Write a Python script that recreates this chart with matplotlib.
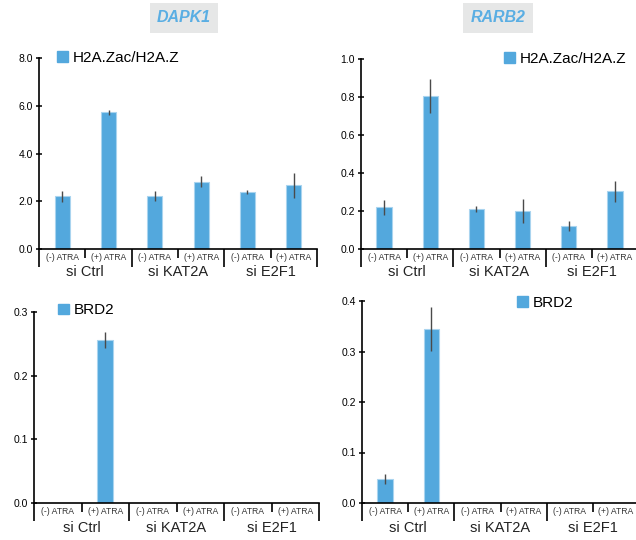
import numpy as np
import matplotlib

matplotlib.use("Agg")
import matplotlib.pyplot as plt
from matplotlib.patches import Patch, Rectangle

plt.rcParams["font.family"] = ["Liberation Sans", "DejaVu Sans"]

conditions = ["(-) ATRA", "(+) ATRA"] * 3
groups = ["si Ctrl", "si KAT2A", "si E2F1"]

dapk1_h2a = [2.20, 5.73, 2.23, 2.82, 2.39, 2.67]
dapk1_h2a_err = [0.25, 0.10, 0.20, 0.24, 0.10, 0.52]
rarb2_h2a = [0.22, 0.805, 0.21, 0.20, 0.12, 0.304]
rarb2_h2a_err = [0.04, 0.09, 0.015, 0.065, 0.027, 0.055]
dapk1_brd2 = [np.nan, 0.256, np.nan, np.nan, np.nan, np.nan]
dapk1_brd2_err = [np.nan, 0.013, np.nan, np.nan, np.nan, np.nan]
rarb2_brd2 = [0.048, 0.345, np.nan, np.nan, np.nan, np.nan]
rarb2_brd2_err = [0.010, 0.044, np.nan, np.nan, np.nan, np.nan]

BAR = "#53a8dd"
EDGE = "#a9d4ef"
TITLE = "#5aaee3"
W, H = 636, 540


def px_axes(fig, left, right, top, bottom):
    return fig.add_axes([left / W, (H - bottom) / H, (right - left) / W, (bottom - top) / H])


def panel(ax, values, errors, yticks, label, leg_xy, sub_off, grp_off):
    x = np.arange(len(values)) + 0.5
    vals = np.array(values, dtype=float)
    errs = np.array(errors, dtype=float)
    ok = np.isfinite(vals)
    ax.bar(x[ok], vals[ok], width=0.33, color=BAR, edgecolor=EDGE, linewidth=0.8, zorder=2)
    ax.errorbar(x[ok], vals[ok], yerr=errs[ok], fmt="none", ecolor="#4a4a4a",
                elinewidth=1.0, capsize=0, zorder=3)
    ax.set_xlim(0, 6)
    ax.set_ylim(yticks[0], yticks[-1])
    ax.set_yticks(yticks)
    ax.yaxis.set_major_formatter(matplotlib.ticker.FormatStrFormatter("%.1f"))
    ax.tick_params(axis="y", direction="inout", length=5, width=1.1, labelsize=7.5, pad=2)
    ax.set_xticks([0, 2, 4, 6])
    ax.set_xticks([1, 3, 5], minor=True)
    ax.tick_params(axis="x", which="major", direction="out", length=13, width=1.2, labelbottom=False)
    ax.tick_params(axis="x", which="minor", direction="out", length=6.5, width=1.2, labelbottom=False)
    for s in ("top", "right"):
        ax.spines[s].set_visible(False)
    for s in ("left", "bottom"):
        ax.spines[s].set_linewidth(1.2)
    for xi, c in zip(x, conditions):
        ax.annotate(c, xy=(xi, 0), xycoords=("data", "axes fraction"),
                    xytext=(0, -sub_off * 0.72), textcoords="offset points",
                    ha="center", va="center", fontsize=6.2, color="#333333",
                    annotation_clip=False)
    for gi, g in enumerate(groups):
        ax.annotate(g, xy=(2 * gi + 1, 0), xycoords=("data", "axes fraction"),
                    xytext=(0, -grp_off * 0.72), textcoords="offset points",
                    ha="center", va="center", fontsize=10.5, color="#222222",
                    annotation_clip=False)
    ax.legend(handles=[Patch(facecolor=BAR, edgecolor=BAR)], labels=[label],
              loc="center left", bbox_to_anchor=leg_xy, frameon=False,
              handlelength=0.7, handleheight=0.7, handletextpad=0.35,
              borderpad=0, borderaxespad=0, fontsize=11)


fig = plt.figure(figsize=(W / 100, H / 100), dpi=100)

ax1 = px_axes(fig, 39, 317, 58, 249)
panel(ax1, dapk1_h2a, dapk1_h2a_err, [0, 2, 4, 6, 8], "H2A.Zac/H2A.Z", (0.065, 1.0), 9, 23)

ax2 = px_axes(fig, 361, 638, 58.7, 249)
panel(ax2, rarb2_h2a, rarb2_h2a_err, [0, 0.2, 0.4, 0.6, 0.8, 1.0], "H2A.Zac/H2A.Z", (0.516, 1.0), 9, 23)

ax3 = px_axes(fig, 34, 319, 312, 503)
panel(ax3, dapk1_brd2, dapk1_brd2_err, [0, 0.1, 0.2, 0.3], "BRD2", (0.084, 1.008), 8, 25)

ax4 = px_axes(fig, 362, 639, 301, 503)
panel(ax4, rarb2_brd2, rarb2_brd2_err, [0, 0.1, 0.2, 0.3, 0.4], "BRD2", (0.56, 0.99), 8, 25)

for name, x0, x1 in [("DAPK1", 150, 218), ("RARB2", 463, 533)]:
    fig.patches.append(Rectangle((x0 / W, (H - 33) / H), (x1 - x0) / W, 30 / H,
                                 transform=fig.transFigure, facecolor="#e6e7e7",
                                 edgecolor="none"))
    fig.text((x0 + x1) / 2 / W, (H - 18) / H, name, ha="center", va="center",
             fontsize=11.5, fontweight="bold", fontstyle="italic", color=TITLE)

fig.savefig("out.png", dpi=100)
